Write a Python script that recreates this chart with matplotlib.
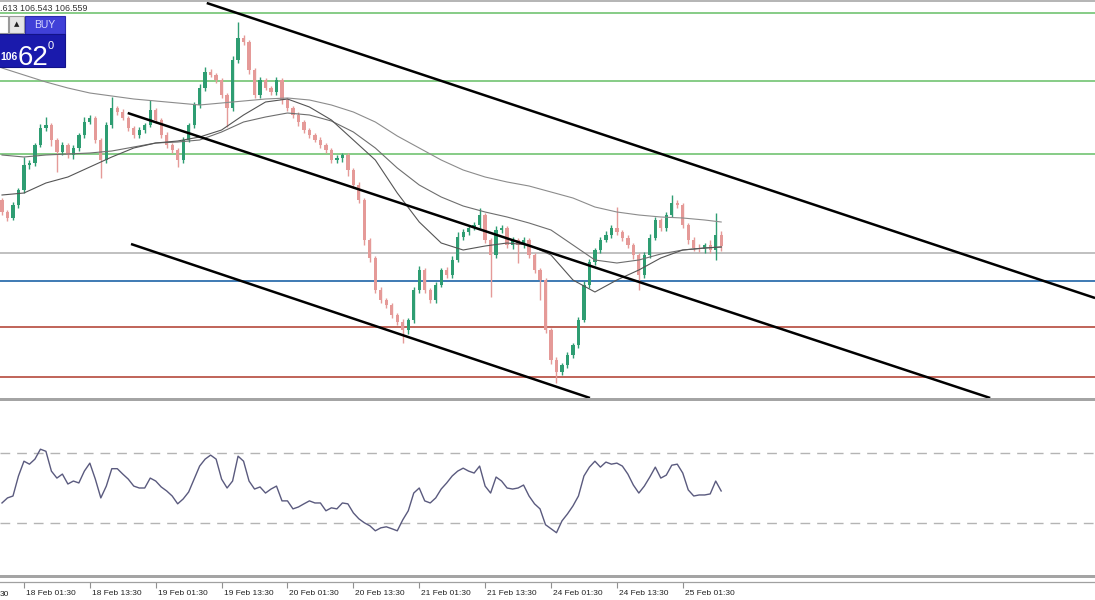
import numpy as np
import matplotlib.pyplot as plt
import matplotlib.transforms as mtransforms
from matplotlib.patches import Rectangle

plt.rcParams['font.family'] = ['Liberation Sans', 'DejaVu Sans']

# ---- data (M30 chart read at 1h steps) ----
first_open = 106.650
closes = [106.626, 106.614, 106.640, 106.670, 106.720, 106.724, 106.760, 106.794, 106.800, 106.770, 106.746, 106.760,
          106.740, 106.754, 106.780, 106.806, 106.814, 106.770, 106.730, 106.800, 106.834, 106.826, 106.814, 106.794,
          106.780, 106.790, 106.800, 106.830, 106.810, 106.780, 106.760, 106.750, 106.730, 106.770, 106.800, 106.840,
          106.874, 106.906, 106.900, 106.890, 106.860, 106.834, 106.930, 106.974, 106.966, 106.910, 106.860, 106.890,
          106.874, 106.866, 106.890, 106.850, 106.834, 106.820, 106.806, 106.790, 106.780, 106.770, 106.760, 106.750,
          106.730, 106.734, 106.740, 106.710, 106.680, 106.650, 106.570, 106.534, 106.470, 106.450, 106.440, 106.420,
          106.406, 106.390, 106.410, 106.470, 106.510, 106.470, 106.450, 106.480, 106.510, 106.500, 106.530, 106.576,
          106.586, 106.594, 106.600, 106.620, 106.570, 106.540, 106.590, 106.594, 106.560, 106.570, 106.560, 106.570,
          106.540, 106.510, 106.490, 106.390, 106.330, 106.306, 106.320, 106.340, 106.360, 106.410, 106.480, 106.526,
          106.550, 106.570, 106.580, 106.594, 106.586, 106.574, 106.560, 106.540, 106.500, 106.540, 106.574, 106.610,
          106.594, 106.620, 106.644, 106.640, 106.600, 106.570, 106.554, 106.552, 106.560, 106.550, 106.580, 106.559]
# wick lengths in points (0.001)
wick_up = [5, 4, 6, 5, 16, 6, 5, 8, 16, 5, 4, 6,
           5, 6, 5, 10, 6, 4, 5, 6, 22, 5, 6, 5,
           4, 6, 5, 20, 5, 4, 6, 5, 4, 6, 5, 6,
           8, 10, 6, 5, 4, 5, 8, 32, 6, 4, 5, 6,
           5, 4, 6, 5, 4, 5, 6, 5, 4, 5, 6, 5,
           4, 6, 5, 4, 5, 6, 5, 4, 5, 6, 5, 4,
           5, 6, 4, 6, 8, 5, 4, 6, 5, 6, 8, 10,
           6, 5, 6, 14, 5, 4, 8, 6, 5, 6, 5, 6,
           5, 4, 5, 4, 5, 6, 5, 6, 5, 6, 8, 6,
           5, 6, 8, 6, 42, 5, 6, 5, 4, 6, 8, 6,
           5, 6, 16, 6, 5, 4, 6, 8, 5, 10, 44, 8]
wick_dn = [6, 5, 4, 6, 5, 8, 5, 4, 6, 12, 40, 6,
           5, 8, 6, 5, 4, 6, 36, 5, 6, 5, 4, 6,
           5, 6, 5, 4, 6, 5, 6, 5, 14, 6, 4, 5,
           5, 6, 4, 5, 6, 38, 5, 6, 5, 8, 6, 5,
           4, 6, 5, 8, 6, 5, 8, 5, 6, 4, 5, 6,
           5, 6, 8, 12, 6, 5, 10, 8, 6, 5, 6, 5,
           6, 26, 8, 5, 6, 5, 6, 5, 4, 6, 5, 4,
           5, 6, 4, 5, 6, 84, 5, 6, 5, 8, 36, 6,
           5, 6, 40, 6, 8, 22, 6, 5, 6, 5, 4, 5,
           6, 5, 4, 6, 5, 6, 5, 8, 30, 6, 5, 4,
           6, 5, 4, 5, 6, 8, 6, 5, 8, 6, 20, 10]

# moving averages sampled every 4 bars
ma_idx = list(range(0, 132, 4)) + [131]
ma_slow = [106.914, 106.900, 106.886, 106.874, 106.864, 106.858, 106.852, 106.848, 106.844, 106.840, 106.844, 106.848,
           106.852, 106.854, 106.850, 106.840, 106.826, 106.806, 106.778, 106.754, 106.730, 106.710, 106.696, 106.686,
           106.678, 106.666, 106.654, 106.636, 106.626, 106.620, 106.616, 106.614, 106.610, 106.606]
ma_mid = [106.740, 106.736, 106.740, 106.742, 106.744, 106.748, 106.756, 106.764, 106.766, 106.770, 106.786, 106.806,
          106.816, 106.824, 106.820, 106.808, 106.786, 106.754, 106.714, 106.680, 106.656, 106.638, 106.626, 106.616,
          106.604, 106.590, 106.560, 106.530, 106.524, 106.530, 106.542, 106.550, 106.554, 106.556]
ma_fast = [106.660, 106.664, 106.684, 106.696, 106.716, 106.736, 106.754, 106.764, 106.768, 106.776, 106.790, 106.820,
           106.846, 106.852, 106.836, 106.810, 106.770, 106.730, 106.664, 106.606, 106.564, 106.550, 106.558, 106.564,
           106.560, 106.540, 106.490, 106.466, 106.490, 106.510, 106.534, 106.550, 106.554, 106.556]

rsi = [41.4, 44.3, 45.4, 56.9, 65.4, 63.7, 66.6, 72.3, 71.1, 59.7, 55.7, 58.0,
       52.3, 54.0, 52.9, 59.7, 64.3, 55.1, 44.3, 51.1, 61.1, 61.1, 58.0, 55.1,
       51.1, 50.0, 50.0, 55.7, 54.0, 50.6, 48.3, 45.4, 40.9, 43.7, 47.7, 55.1,
       62.6, 66.6, 68.9, 66.6, 55.1, 50.0, 54.0, 68.3, 65.4, 54.0, 49.4, 50.6,
       47.1, 49.4, 51.1, 42.6, 42.6, 38.0, 39.1, 40.9, 42.6, 41.4, 41.4, 36.9,
       38.6, 38.0, 41.4, 40.9, 35.7, 32.3, 30.0, 28.3, 25.4, 27.1, 27.7, 26.6,
       25.4, 31.7, 36.9, 47.1, 50.0, 42.6, 41.4, 44.3, 49.4, 52.9, 56.9, 59.7,
       61.4, 59.7, 58.6, 62.6, 51.1, 47.1, 56.3, 54.0, 50.0, 49.4, 50.0, 51.7,
       45.4, 40.9, 38.0, 28.9, 26.6, 24.3, 31.1, 35.1, 39.7, 45.4, 56.9, 62.0,
       65.4, 62.0, 64.9, 63.7, 64.3, 62.6, 58.0, 51.7, 47.1, 51.1, 56.3, 62.0,
       55.7, 57.4, 63.1, 63.7, 58.6, 48.9, 45.4, 46.0, 46.0, 46.6, 54.0, 48.3]

levels_green = [107.024, 106.888, 106.742]
level_bid = 106.544
level_blue = 106.488
levels_red = [106.396, 106.296]

# trend line anchors (bar index, price)
trend_lines = [((37.3, 107.044), (199.1, 106.454)),
               ((22.9, 106.824), (180.0, 106.254)),
               ((23.5, 106.562), (107.1, 106.254))]

tick_idx = [4, 16, 28, 40, 52, 64, 76, 88, 100, 112, 124]
tick_labels = ['18 Feb 01:30', '18 Feb 13:30', '19 Feb 01:30', '19 Feb 13:30', '20 Feb 01:30',
               '20 Feb 13:30', '21 Feb 01:30', '21 Feb 13:30', '24 Feb 01:30', '24 Feb 13:30', '25 Feb 01:30']

# ---- figure ----
W, H = 1095, 600
fig = plt.figure(figsize=(W / 100, H / 100), dpi=100, facecolor='white')
XLIM = (-0.364, 199.09)

def px_axes(top, bottom):
    return fig.add_axes([0, 1 - bottom / H, 1, (bottom - top) / H])

ax = px_axes(2, 398)
ax_rsi = px_axes(401, 575)
ax_t = px_axes(578, 582)
for a in (ax, ax_rsi, ax_t):
    for s in a.spines.values():
        s.set_visible(False)
    a.set_yticks([])
    a.set_xticks([])
ax.set_ylim(106.254, 107.046)
ax_rsi.set_ylim(0, 100)

# horizontal levels
for lv in levels_green:
    ax.axhline(lv, color='#72c472', lw=1.2, zorder=1)
ax.axhline(level_bid, color='#b5b5b5', lw=1.2, zorder=1)
ax.axhline(level_blue, color='#2f6fae', lw=1.3, zorder=1)
for lv in levels_red:
    ax.axhline(lv, color='#b5493c', lw=1.2, zorder=1)

# candles
opens = [first_open] + closes[:-1]
x = np.arange(len(closes))
for i in x:
    o, c = opens[i], closes[i]
    col = '#2e9d72' if c >= o else '#e59a98'
    hi = max(o, c) + wick_up[i] / 1000
    lo = min(o, c) - wick_dn[i] / 1000
    ax.vlines(i, lo, hi, color=col, lw=1.0, zorder=3)
    ax.bar(i, max(abs(c - o), 0.0015), bottom=min(o, c), width=0.6, color=col, lw=0, zorder=3)

# moving averages
ax.plot(ma_idx, ma_slow, color='#8c8c8c', lw=0.8, zorder=4)
ax.plot(ma_idx, ma_mid, color='#6e6e6e', lw=0.8, zorder=4)
ax.plot(ma_idx, ma_fast, color='#555555', lw=0.8, zorder=4)

# trend lines
for (x0, y0), (x1, y1) in trend_lines:
    ax.plot([x0, x1], [y0, y1], color='black', lw=1.8, zorder=5, solid_capstyle='butt')

# RSI
ax_rsi.axhline(70, color='#b4b4b4', lw=1.0, dashes=(7, 5))
ax_rsi.axhline(30, color='#b4b4b4', lw=1.0, dashes=(7, 5))
ax_rsi.plot(x, rsi, color='#5a5a7e', lw=1.0)

# time axis
ax_t.set_xticks(tick_idx)
ax_t.set_xticklabels(tick_labels, ha='left', fontsize=6.0, color='#222222')
ax_t.tick_params(axis='x', length=4, width=0.8, color='#909090', pad=1.5)
off = mtransforms.ScaledTranslation(2 / 100, 0, fig.dpi_scale_trans)
for lbl in ax_t.get_xticklabels():
    lbl.set_transform(lbl.get_transform() + off)

for a in (ax, ax_rsi, ax_t):
    a.set_xlim(*XLIM)

# ---- overlay in pixel coordinates: frame, header, trade panel ----
ov = fig.add_axes([0, 0, 1, 1], zorder=10)
ov.set_xlim(0, W)
ov.set_ylim(H, 0)
ov.axis('off')
ov.patch.set_alpha(0)

ov.plot([0, W], [0.8, 0.8], color='#a8a8a8', lw=1.2)
ov.add_patch(Rectangle((0, 397.5), W, 3, color='#a4a4a4', lw=0))
ov.add_patch(Rectangle((0, 574.5), W, 3, color='#a4a4a4', lw=0))
ov.plot([0, W], [582, 582], color='#a0a0a0', lw=0.9)
ov.text(0, 594, '30', fontsize=6.0, color='#222222', va='center', ha='left')

ov.text(0, 8.5, '.613 106.543 106.559', fontsize=6.4, color='#333333', va='center', ha='left')

ov.add_patch(Rectangle((-2, 16), 10, 17, facecolor='white', edgecolor='#9a9a9a', lw=0.8))
ov.add_patch(Rectangle((9, 16), 15, 17, facecolor='#e6e6e6', edgecolor='#9a9a9a', lw=0.8))
ov.text(16.5, 24.5, '\u25b2', fontsize=5, color='#222222', ha='center', va='center', family='DejaVu Sans')
ov.add_patch(Rectangle((25, 16), 40, 18, facecolor='#4040d8', edgecolor='#2a2ab0', lw=0.8))
ov.text(45, 25, 'BUY', fontsize=7.5, color='#d8d8ff', ha='center', va='center')
ov.add_patch(Rectangle((-2, 34), 67, 33, facecolor='#1a1aac', edgecolor='#12128a', lw=0.8))
ov.text(0, 57, '106', fontsize=7.5, color='white', ha='left', va='center', fontweight='bold')
ov.text(18, 65, '62', fontsize=20, color='white', ha='left', va='baseline')
ov.text(48, 46, '0', fontsize=8, color='white', ha='left', va='center')

fig.savefig('out.png', dpi=100, facecolor='white')
